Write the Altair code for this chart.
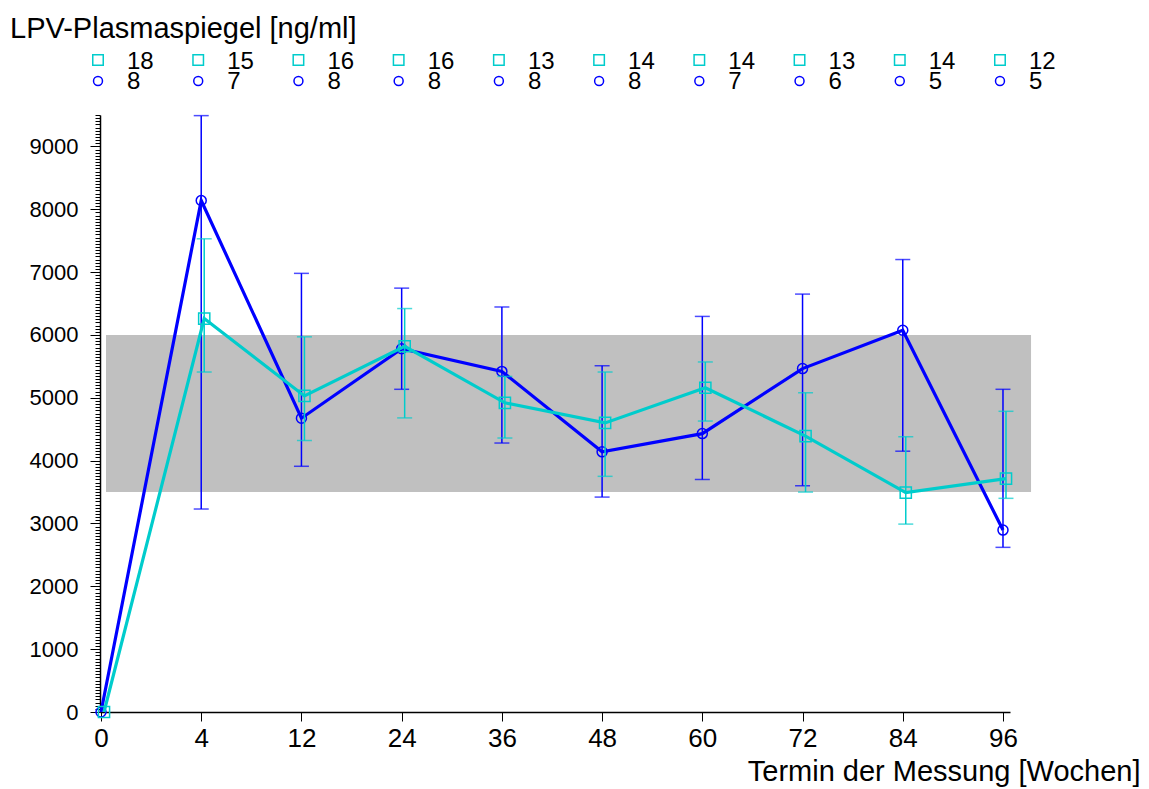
import altair as alt
import pandas as pd

# ---- data ----
weeks = ["0", "4", "12", "24", "36", "48", "60", "72", "84", "96"]

cyan_mean = [0, 6260, 5030, 5820, 4920, 4600, 5160, 4390, 3490, 3715]
cyan_lo = [None, 5410, 4320, 4680, 4360, 3750, 4630, 3500, 2990, 3400]
cyan_hi = [None, 7530, 5970, 6420, 5340, 5410, 5570, 5080, 4380, 4785]
cyan_n = [18, 15, 16, 16, 13, 14, 14, 13, 14, 12]

blue_mean = [0, 8140, 4675, 5780, 5420, 4140, 4430, 5465, 6075, 2895]
blue_lo = [None, 3230, 3910, 5135, 4280, 3420, 3700, 3600, 4150, 2620]
blue_hi = [None, 9490, 6980, 6745, 6445, 5510, 6295, 6650, 7200, 5135]
blue_n = [8, 7, 8, 8, 8, 8, 7, 6, 5, 5]

band_low = [3500]
band_high = [6000]
band_from = [0.05]   # in timepoint-index units
band_to = [9.28]

title_text = ["LPV-Plasmaspiegel [ng/ml]"]

FONT = "Liberation Sans"
CYAN = "#00CCCC"
BLUE = "#0000FF"
GREY = "#C0C0C0"


def series_df(mean, lo, hi, n):
    return pd.DataFrame({
        "idx": list(range(len(weeks))),
        "week": weeks,
        "mean": mean,
        "lo": lo,
        "hi": hi,
        "n": n,
    })


df_c = series_df(cyan_mean, cyan_lo, cyan_hi, cyan_n)
df_b = series_df(blue_mean, blue_lo, blue_hi, blue_n)
df_band = pd.DataFrame({"x1": band_from, "x2": band_to, "y1": band_low, "y2": band_high})
df_title = pd.DataFrame({"t": title_text})

x_scale = alt.Scale(domain=[-0.01, 9.07], nice=False, zero=False)
y_scale = alt.Scale(domain=[0, 9500], nice=False, zero=True)

label_expr = "[" + ",".join(f"'{w}'" for w in weeks) + "][round(datum.value)]"

x_axis = alt.Axis(
    values=list(range(len(weeks))), labelExpr=label_expr,
    title="Termin der Messung [Wochen]", grid=False,
    tickSize=9, tickWidth=1, tickColor="black",
    domainColor="black", domainWidth=1.5,
    labelPadding=4, labelFontSize=26, labelFont=FONT, labelColor="black",
    labelFlush=False, labelOverlap=False,
    titleFont=FONT, titleFontSize=29, titleFontWeight="normal", titleColor="black",
    titleAnchor="end", titleAlign="right", titleBaseline="alphabetic",
    titleX=1040, titleY=68,
)

y_axis = alt.Axis(
    values=list(range(0, 9501, 50)),
    labelExpr="datum.value % 1000 === 0 ? format(datum.value, 'd') : ''",
    tickSize={"condition": {"test": "datum.value % 1000 === 0", "value": 10}, "value": 5},
    tickWidth=1, tickColor="black",
    domainColor="black", domainWidth=1.5,
    labelPadding=12, labelFontSize=22, labelFont=FONT, labelColor="black",
    labelFlush=False, labelOverlap=False, grid=False, title=None,
)

X = alt.X("idx:Q", scale=x_scale, axis=x_axis)
Y = alt.Y("mean:Q", scale=y_scale, axis=y_axis)

band = alt.Chart(df_band).mark_rect(color=GREY, opacity=1).encode(
    x=alt.X("x1:Q", scale=x_scale, axis=x_axis), x2="x2:Q",
    y=alt.Y("y1:Q", scale=y_scale, axis=y_axis), y2="y2:Q",
)


def series_layers(df, color, shape, size, xoff):
    base = alt.Chart(df)
    err = base.transform_filter("isValid(datum.lo)").mark_rule(
        color=color, strokeWidth=1.5, xOffset=xoff
    ).encode(x=X, y=alt.Y("lo:Q", scale=y_scale, axis=y_axis), y2="hi:Q")
    cap_lo = base.transform_filter("isValid(datum.lo)").mark_tick(
        color=color, orient="horizontal", size=15, thickness=1.5, xOffset=xoff
    ).encode(x=X, y=alt.Y("lo:Q", scale=y_scale, axis=y_axis))
    cap_hi = base.transform_filter("isValid(datum.hi)").mark_tick(
        color=color, orient="horizontal", size=15, thickness=1.5, xOffset=xoff
    ).encode(x=X, y=alt.Y("hi:Q", scale=y_scale, axis=y_axis))
    line = base.mark_line(color=color, strokeWidth=3.2, xOffset=xoff).encode(x=X, y=Y)
    pts = base.mark_point(
        shape=shape, filled=False, size=size, strokeWidth=1.5, color=color,
        opacity=1, xOffset=xoff
    ).encode(x=X, y=Y)
    return [err, cap_lo, cap_hi, line, pts]


def count_layers(df, color, shape, size, sym_y, txt_y):
    base = alt.Chart(df)
    sym = base.mark_point(
        shape=shape, filled=False, size=size, strokeWidth=1.5, color=color,
        opacity=1, xOffset=-3
    ).encode(x=X, y=alt.value(sym_y))
    txt = base.mark_text(
        align="left", baseline="alphabetic", dx=26, fontSize=24, font=FONT, color="black"
    ).encode(x=X, y=alt.value(txt_y), text="n:Q")
    return [sym, txt]


title = alt.Chart(df_title).mark_text(
    align="left", baseline="alphabetic", fontSize=29, font=FONT, color="black"
).encode(x=alt.value(-90), y=alt.value(-77), text="t:N")

layers = [band]
layers += series_layers(df_b, BLUE, "circle", 100, 0)
layers += series_layers(df_c, CYAN, "square", 125, 3)
layers += count_layers(df_c, CYAN, "square", 110, -55, -46)
layers += count_layers(df_b, BLUE, "circle", 80, -34, -26)
layers += [title]

chart = alt.layer(*layers).properties(
    width=910,
    height=597,
    autosize=alt.AutoSizeParams(type="none"),
    padding={"left": 100, "top": 115, "right": 139, "bottom": 77},
    background="white",
).configure_view(stroke=None)

chart.save("out.html", embed_options={"renderer": "svg", "actions": False})
